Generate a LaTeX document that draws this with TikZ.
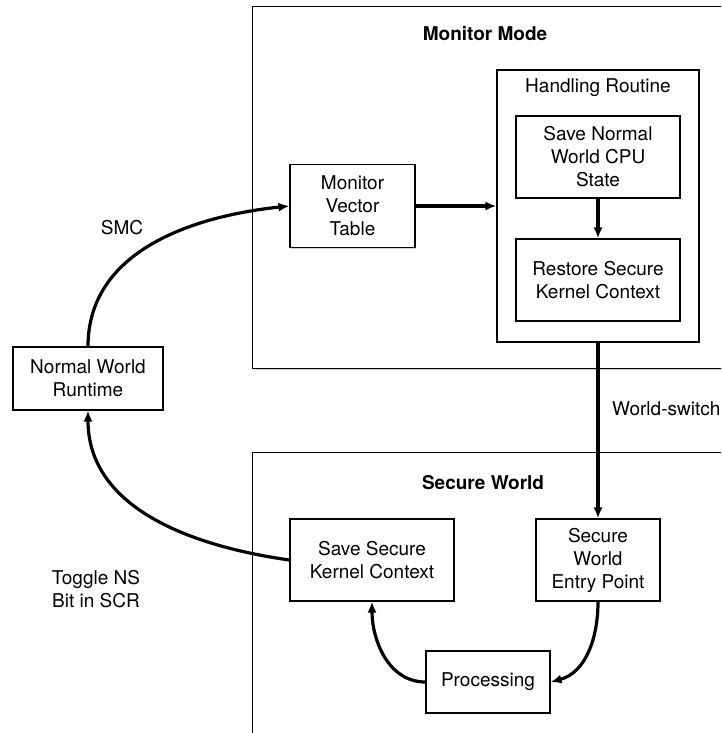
\documentclass[tikz,border=0pt]{standalone}
\usepackage{fontspec}
\setmainfont{TeX Gyre Heros}
\usepackage{tikz}
\usetikzlibrary{arrows.meta,positioning,shadows}

\begin{document}
\begin{tikzpicture}[
  x=1pt,y=-1pt,
  font=\fontsize{19}{23}\selectfont,
  box/.style={draw,line width=1.1pt,fill=white,align=center,inner sep=2pt,
    drop shadow={shadow xshift=1.4pt,shadow yshift=-1.4pt,opacity=0.35}},
  region/.style={draw,line width=1.1pt,fill=white,anchor=north west,
    drop shadow={shadow xshift=1.4pt,shadow yshift=-1.4pt,opacity=0.35}},
  lbl/.style={inner sep=0pt,align=center},
  title/.style={inner sep=0pt,font=\fontsize{19}{23}\selectfont\bfseries},
  arrow/.style={-{Latex[length=11pt,width=9pt]},line width=3.2pt}
]
\useasboundingbox (0,0) rectangle (721,733);
\clip (0,0) rectangle (721,733);

\node[region,minimum width=520,minimum height=362] (monitor) at (252,6) {};
\node[title] (montitle) at (485,34) {Monitor Mode};
\node[region,minimum width=520,minimum height=320] (secure) at (252,452) {};
\node[title] (sectitle) at (483,483) {Secure World};

\node[box,minimum width=202,minimum height=272] (handling) at (598,206) {};
\node[lbl,below=9pt of handling.north] (hrtitle) {Handling Routine};
\node[box,minimum width=164,minimum height=82] (savenw) at (598,157) {Save Normal\\World CPU\\State};
\node[box,minimum width=164,minimum height=82] (restore) at (598,280) {Restore Secure\\Kernel Context};
\node[box,minimum width=125,minimum height=83] (mvt) at (352.5,206) {Monitor\\Vector\\Table};
\node[box,minimum width=150,minimum height=63] (nwr) at (88,378.5) {Normal World\\Runtime};

\node[box,minimum width=164,minimum height=82] (savesk) at (372,560) {Save Secure\\Kernel Context};
\node[box,minimum width=124,minimum height=82] (entry) at (598,560) {Secure\\World\\Entry Point};
\node[box,minimum width=124,minimum height=62] (proc) at (488,682) {Processing};

\draw[arrow] (nwr.north) to[out=90,in=186] (mvt.west);
\draw[arrow] (mvt.east) -- (handling.west);
\draw[arrow] (savenw) -- (restore);
\draw[arrow] (handling.south) -- (entry.north);
\draw[arrow] (entry.south) to[out=-90,in=15] (proc.east);
\draw[arrow] (proc.west) to[out=180,in=-90] (savesk.south);
\draw[arrow] (savesk.west) to[out=172,in=-90] (nwr.south);

\node[lbl] (smc) at (122,228) {SMC};
\node[lbl] (toggle) at (96,589) {Toggle NS\\Bit in SCR};
\node[lbl,anchor=west] (wswitch) at (612,409) {World-switch};
\end{tikzpicture}
\end{document}
